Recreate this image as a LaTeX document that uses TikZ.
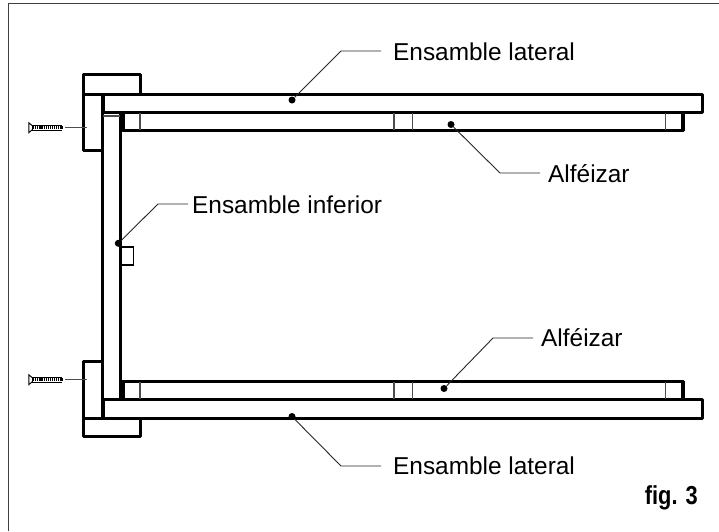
\documentclass[tikz,border=0pt]{standalone}
\usepackage{fontspec}
\setmainfont{Liberation Sans}
\tikzset{
  px/.style={x=1pt,y=-1pt},
  heavy/.style={draw=black,line width=3pt,line join=round},
  mid/.style={draw=black,line width=1.6pt},
  thin2/.style={draw=black!70,line width=1.2pt},
  lead/.style={draw=black!85,line width=0.9pt},
  lab/.style={font=\fontsize{24.4}{26}\selectfont,anchor=base west,inner sep=0pt},
  dot/.style={circle,fill=black,inner sep=0pt,minimum size=7pt}
}
\begin{document}
\begin{tikzpicture}[px]
\useasboundingbox (0,0) rectangle (719,531);
\draw[draw=black!75,line width=1pt] (8,531) -- (8,3.5) -- (719,3.5);
% blocks
\draw[heavy] (83,74.5) rectangle (140,94);
\draw[heavy] (83,94) rectangle (102.5,150.5);
\draw[heavy] (83,361) rectangle (102.5,418);
\draw[heavy] (83,418) rectangle (140,436.5);
% side boards
\draw[heavy] (103,94) rectangle (702,112.5);
\draw[heavy] (122,112.5) rectangle (683,130.5);
\draw[heavy] (103,399.5) rectangle (702,418);
\draw[heavy] (122,381) rectangle (683,399.5);
% vertical panel
\draw[draw=black,line width=2.5pt] (102.7,115.7) -- (102.7,398);
\draw[draw=black,line width=3pt] (120.8,112) -- (120.8,400);
\draw[thin2] (103,115.9) -- (120,115.9);
\fill (101,94) rectangle (105,112.5);
\fill (101,399.5) rectangle (105,418);
\fill (119.5,112.5) rectangle (125,130.5);
\fill (119.5,381) rectangle (125,399.5);
\fill (103,397.5) rectangle (121,400.5);
% cleats
\foreach \x in {140,394,412.3,665.7}{
  \draw[thin2] (\x,113) -- (\x,130);
  \draw[thin2] (\x,382) -- (\x,399);
}
\fill (681,112.5) rectangle (684.5,130.5);
\fill (681,381) rectangle (684.5,399.5);
% small block
\draw[mid] (121.7,246.7) -- (133.3,246.7) -- (133.3,265) -- (121.7,265);
% screws
\foreach \y in {127.7,379.7}{
  \draw[thin2] (65,\y) -- (87,\y);
  \draw[line width=0.9pt] (32.5,\y-1.8) -- (28.8,\y-5) -- (28.8,\y+5) -- (32.5,\y+1.8) -- cycle;
  \draw[line width=3pt,dash pattern=on 1.2pt off 0.9pt] (33,\y) -- (63,\y);
  \draw[line width=0.6pt] (32,\y-2.1) -- (62,\y-2.1) (32,\y+2.1) -- (62,\y+2.1);
}
% labels and leaders
\node[dot] (d1) at (292,100) {};
\node[dot] (d2) at (451,124.5) {};
\node[dot] (d3) at (118.3,243.3) {};
\node[dot] (d4) at (444,388.5) {};
\node[dot] (d5) at (292,416.5) {};
\node[lab] (t1) at (393,60) {Ensamble lateral};
\node[lab] (t2) at (548,182) {Alféizar};
\node[lab] (t3) at (192,213) {Ensamble inferior};
\node[lab] (t4) at (541,346) {Alféizar};
\node[lab] (t5) at (393,474.5) {Ensamble lateral};
\node[font=\bfseries\fontsize{26}{28}\selectfont,anchor=base east,inner sep=0pt,xscale=.84] (fig) at (698,504) {fig. 3};
\coordinate (e1) at (381,51);
\coordinate (k1) at (341,51);
\coordinate (e2) at (540,173);
\coordinate (k2) at (500,173);
\coordinate (e3) at (188,204);
\coordinate (k3) at (158,204);
\coordinate (e4) at (533,338);
\coordinate (k4) at (493,338);
\coordinate (e5) at (381,466);
\coordinate (k5) at (341,466);
\draw[lead] (e1) -- (k1) -- (d1);
\draw[lead] (e2) -- (k2) -- (d2);
\draw[lead] (e3) -- (k3) -- (d3);
\draw[lead] (e4) -- (k4) -- (d4);
\draw[lead] (e5) -- (k5) -- (d5);
\end{tikzpicture}
\end{document}
